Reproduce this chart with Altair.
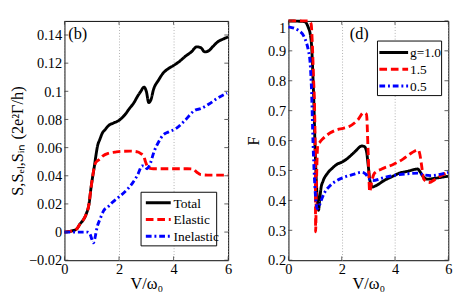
import altair as alt
import pandas as pd

FONT = "Liberation Serif"

# ---------------- left panel (b) ----------------
tot_v = [0, 0.3, 0.45, 0.56, 0.7, 0.8, 0.9, 0.97, 1.03, 1.09, 1.15, 1.21, 1.3, 1.38, 1.5, 1.62, 1.8, 1.97,
         2.2, 2.38, 2.55, 2.68, 2.8, 2.91, 3.0, 3.09, 3.17, 3.26, 3.45, 3.62, 3.8, 3.97, 4.2, 4.44, 4.65,
         4.85, 5.0, 5.14, 5.3, 5.45, 5.61, 5.8, 6.0]
tot_s = [0, 0.001, 0.0022, 0.0055, 0.009, 0.013, 0.02, 0.031, 0.039, 0.046, 0.054, 0.061, 0.066, 0.070,
         0.073, 0.0757, 0.0775, 0.079, 0.083, 0.0877, 0.092, 0.0965, 0.100, 0.103, 0.100, 0.092, 0.094,
         0.101, 0.108, 0.113, 0.116, 0.118, 0.121, 0.125, 0.128, 0.1316, 0.131, 0.128, 0.129, 0.132,
         0.135, 0.137, 0.1386]

el_v = [0, 0.3, 0.45, 0.56, 0.7, 0.8, 0.9, 0.97, 1.03, 1.09, 1.15, 1.2, 1.27, 1.4, 1.62, 1.85, 2.09, 2.4,
        2.68, 2.8, 2.91, 2.97, 3.03, 3.1, 3.26, 3.5, 4.0, 4.5, 4.7, 4.85, 5.0, 5.25, 5.6, 6.0]
el_s = [0, 0.001, 0.0022, 0.0055, 0.009, 0.013, 0.02, 0.031, 0.039, 0.046, 0.0495, 0.0505, 0.0515, 0.054,
        0.056, 0.0568, 0.0574, 0.0575, 0.057, 0.0558, 0.0537, 0.050, 0.047, 0.0455, 0.045, 0.045, 0.045,
        0.045, 0.0448, 0.0425, 0.0408, 0.0405, 0.0405, 0.0405]

in_v = [0, 0.5, 0.85, 0.95, 1.0, 1.06, 1.12, 1.16, 1.21, 1.3, 1.44, 1.6, 1.74, 2.0, 2.32, 2.5, 2.68,
        2.85, 2.95, 3.03, 3.12, 3.3, 3.45, 3.62, 3.8, 4.08, 4.4, 4.79, 5.0, 5.3, 5.6, 5.96]
in_s = [0, 0, 0, -0.002, -0.005, -0.0077, -0.004, 0.0, 0.0044, 0.009, 0.0153, 0.018, 0.0208, 0.025,
        0.0307, 0.035, 0.0405, 0.047, 0.0465, 0.045, 0.0475, 0.058, 0.064, 0.069, 0.071, 0.0734, 0.079,
        0.0866, 0.0877, 0.091, 0.095, 0.0987]

left_names = ["Total", "Elastic", "Inelastic"]

# ---------------- right panel (d) ----------------
g10_v = [0, 0.6, 0.75, 0.82, 0.87, 0.92, 0.96, 0.99, 1.03, 1.08, 1.13, 1.17, 1.22, 1.3, 1.46, 1.65, 1.81,
         2.05, 2.28, 2.4, 2.52, 2.75, 2.85, 2.93, 2.99, 3.05, 3.1, 3.16, 3.3, 3.58, 3.9, 4.16, 4.5, 4.75,
         4.85, 4.93, 5.05, 5.22, 5.5, 5.99]
g10_f = [1.0, 0.998, 0.977, 0.955, 0.915, 0.812, 0.71, 0.605, 0.5, 0.409, 0.367, 0.40, 0.44, 0.465, 0.49,
         0.508, 0.52, 0.53, 0.545, 0.555, 0.565, 0.582, 0.58, 0.564, 0.52, 0.471, 0.452, 0.445, 0.45,
         0.466, 0.48, 0.491, 0.498, 0.504, 0.505, 0.497, 0.48, 0.471, 0.474, 0.481]

g15_v = [0, 0.75, 0.85, 0.9, 0.94, 0.98, 1.01, 1.02, 1.05, 1.1, 1.18, 1.28, 1.57, 1.81, 2.05, 2.28, 2.52,
         2.63, 2.81, 2.93, 2.99, 3.05, 3.12, 3.22, 3.5, 3.93, 4.3, 4.63, 4.87, 4.93, 4.99, 5.08, 5.28,
         5.5, 5.69, 5.99]
g15_f = [1.0, 1.0, 0.99, 0.915, 0.81, 0.71, 0.50, 0.295, 0.45, 0.585, 0.595, 0.605, 0.626, 0.636, 0.641,
         0.647, 0.662, 0.672, 0.693, 0.688, 0.564, 0.429, 0.46, 0.49, 0.505, 0.52, 0.538, 0.559, 0.569,
         0.555, 0.522, 0.471, 0.46, 0.47, 0.481, 0.494]

g05_v = [0, 0.4, 0.64, 0.75, 0.81, 0.87, 0.92, 0.99, 1.04, 1.08, 1.15, 1.22, 1.35, 1.57, 1.81, 2.05, 2.4,
         2.75, 2.9, 2.99, 3.16, 3.58, 4.16, 4.87, 5.1, 5.34, 5.99]
g05_f = [0.98, 0.967, 0.936, 0.9, 0.864, 0.76, 0.6, 0.45, 0.39, 0.373, 0.38, 0.398, 0.425, 0.45, 0.466,
         0.476, 0.486, 0.494, 0.488, 0.476, 0.466, 0.476, 0.486, 0.491, 0.485, 0.483, 0.494]

right_names = ["g=1.0", "1.5", "0.5"]

x_ticks = [0, 2, 4, 6]
left_y_ticks = [-0.02, 0, 0.02, 0.04, 0.06, 0.08, 0.1, 0.12, 0.14]
right_y_ticks = [0.2, 0.3, 0.4, 0.5, 0.6, 0.7, 0.8, 0.9, 1.0]

COLORS = ["#000000", "#ff0000", "#0000ff"]
DASHES = [[1, 0], [8, 4], [6, 3, 2, 3]]


def long_df(names, xs, ys, yname):
    rows = []
    for n, vs, ss in zip(names, xs, ys):
        for v, s in zip(vs, ss):
            rows.append({"series": n, "V": v, yname: s})
    return pd.DataFrame(rows)


left_df = long_df(left_names, [tot_v, el_v, in_v], [tot_s, el_s, in_s], "S")
right_df = long_df(right_names, [g10_v, g15_v, g05_v], [g10_f, g15_f, g05_f], "F")


def legend_layers(names, box, sym_x0, sym_x1, lab_x, row_y0, row_dy):
    """Framed legend drawn inside the plot area (pixel placement)."""
    bx0, by0, bx1, by1 = box
    one = pd.DataFrame({"k": [0]})
    layers = [alt.Chart(one).mark_rect(fill="#fff", stroke="#000", strokeWidth=1).encode(
        x=alt.value(bx0), x2=alt.value(bx1), y=alt.value(by0), y2=alt.value(by1))]
    for i, n in enumerate(names):
        yy = row_y0 + i * row_dy
        layers.append(alt.Chart(one).mark_rule(strokeWidth=3, color=COLORS[i], strokeDash=DASHES[i]).encode(
            x=alt.value(sym_x0), x2=alt.value(sym_x1), y=alt.value(yy)))
        layers.append(alt.Chart(pd.DataFrame({"txt": [n]})).mark_text(
            font=FONT, fontSize=14, align="left", baseline="middle", color="#000").encode(
            text="txt:N", x=alt.value(lab_x), y=alt.value(yy + 1)))
    return layers


def panel(df, yfield, names, ydomain, yticks, ytitle, W, H, leg, tag, tagx, tagy, ytp, ybase):
    xscale = alt.Scale(domain=[0, 6], nice=False, zero=False)
    yscale = alt.Scale(domain=ydomain, nice=False, zero=False)
    xaxis = alt.Axis(values=x_ticks, grid=True, gridDash=[1, 2], gridColor="#999", gridWidth=0.8,
                     title="V/ω₀", format="~g", labelFlush=False, labelOverlap=False)
    yaxis = alt.Axis(values=yticks, grid=False, title=ytitle, format="~g", labelFlush=False,
                     labelOverlap=False, titlePadding=ytp, labelBaseline=ybase)
    lines = alt.Chart(df).mark_line(strokeWidth=3, interpolate="monotone").encode(
        x=alt.X("V:Q", scale=xscale, axis=xaxis),
        y=alt.Y(f"{yfield}:Q", scale=yscale, axis=yaxis),
        color=alt.Color("series:N", scale=alt.Scale(domain=names, range=COLORS), legend=None),
        strokeDash=alt.StrokeDash("series:N", scale=alt.Scale(domain=names, range=DASHES), legend=None),
    )
    xt = pd.DataFrame({"t": x_ticks})
    yt = pd.DataFrame({"t": yticks})
    rx = alt.Chart(xt).mark_rule(color="#333", strokeWidth=0.8)
    ry = alt.Chart(yt).mark_rule(color="#333", strokeWidth=0.8)
    xe = alt.X("t:Q", scale=xscale, axis=xaxis)
    ye = alt.Y("t:Q", scale=yscale, axis=yaxis)
    t1 = rx.encode(x=xe, y=alt.value(H - 4), y2=alt.value(H))
    t2 = rx.encode(x=xe, y=alt.value(0), y2=alt.value(4))
    t3 = ry.encode(y=ye, x=alt.value(0), x2=alt.value(4))
    t4 = ry.encode(y=ye, x=alt.value(W - 4), x2=alt.value(W))
    label = alt.Chart(pd.DataFrame({"txt": [tag]})).mark_text(
        font=FONT, fontSize=17, align="left", baseline="middle", color="#000"
    ).encode(text="txt:N", x=alt.value(tagx), y=alt.value(tagy))
    return alt.layer(lines, t1, t2, t3, t4, label, *legend_layers(names, *leg)).properties(width=W, height=H)


top_flush = alt.condition("datum.value >= 1", alt.value("top"), alt.value("middle"))

left = panel(left_df, "S", left_names, [-0.02, 0.15], left_y_ticks, "S,Sₑₗ,Sᵢₙ (2e²Γ/h)",
             171, 250, ((80, 179, 159, 235), 85, 111, 114, 190, 17.5), "(b)", 4, 14, 2, "middle")
right = panel(right_df, "F", right_names, [0.2, 1.0], right_y_ticks, "F",
              167, 250, ((93, 21, 160, 78), 95, 125, 127, 33, 17.5), "(d)", 64, 14, 5, top_flush)

chart = alt.hconcat(left, right, spacing=10).resolve_scale(
    color="independent", strokeDash="independent", x="independent", y="independent"
).configure(
    padding={"left": 0, "top": 0, "right": 0, "bottom": 0}, background="#ffffff"
).configure_view(stroke="#000", strokeWidth=1).configure_axis(
    labelFont=FONT, labelFontSize=15, labelColor="#000", titleFont=FONT, titleFontSize=17,
    titleFontWeight="normal", titleColor="#000", tickSize=0, domain=False, labelPadding=3,
    titlePadding=0
).configure_axisX(labelPadding=2)

chart.save("out.html", embed_options={"renderer": "svg", "actions": False})
